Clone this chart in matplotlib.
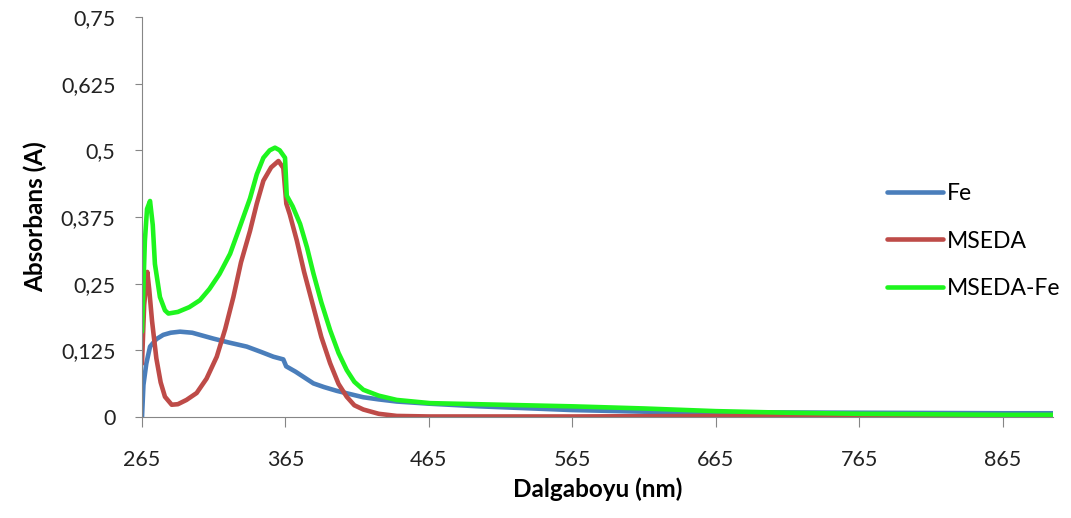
import matplotlib
matplotlib.use("Agg")
import matplotlib.pyplot as plt

plt.rcParams['font.family'] = ['Lato', 'DejaVu Sans']

# wavelength (nm) / absorbance
fe_x = [265, 266, 268, 270.6, 275, 279.8, 285, 291.5, 300, 314.7, 325, 338, 348, 356.6, 363.5, 365.5,
        372, 384.5, 392, 400.8, 410, 419.3, 430, 442.6, 465, 500, 565, 615, 665, 765, 865, 900]
fe_y = [0.0, 0.06, 0.10, 0.132, 0.146, 0.154, 0.158, 0.160, 0.158, 0.147, 0.140, 0.132, 0.122, 0.113, 0.108, 0.095,
        0.085, 0.063, 0.056, 0.049, 0.043, 0.037, 0.033, 0.029, 0.025, 0.020, 0.013, 0.010, 0.009, 0.008, 0.007, 0.007]

mseda_x = [265, 266.5, 268.7, 270, 272, 275, 278, 281, 285.7, 290, 296, 303.1, 310, 317.1, 323, 328.7, 334, 340.3,
           345, 349.6, 355, 360.1, 363.5, 365.6, 368, 372.9, 378, 384.5, 390, 396.1, 402, 407.7, 413, 419.3,
           430, 442.6, 465, 565, 665, 765, 865, 900]
mseda_y = [0.10, 0.21, 0.272, 0.24, 0.18, 0.11, 0.065, 0.038, 0.023, 0.024, 0.032, 0.045, 0.072, 0.113, 0.165, 0.225,
           0.29, 0.349, 0.400, 0.443, 0.468, 0.480, 0.467, 0.400, 0.380, 0.331, 0.272, 0.206, 0.150, 0.101, 0.062,
           0.038, 0.022, 0.014, 0.006, 0.002, 0.001, 0.001, 0.002, 0.002, 0.002, 0.002]

msedafe_x = [265, 267, 268.5, 270.6, 272.5, 274, 277.5, 281, 283.4, 290, 298, 305.4, 312, 319, 326.4, 333, 340.3,
             345, 349.6, 354, 357.7, 361, 364.7, 365.9, 370, 375.2, 380, 384.5, 390, 396.1, 402, 407.7,
             413, 419.3, 430, 442.6, 465.8, 515, 565, 615, 665, 715, 765, 865, 900]
msedafe_y = [0.16, 0.33, 0.39, 0.405, 0.36, 0.287, 0.225, 0.200, 0.194, 0.197, 0.206, 0.219, 0.240, 0.268, 0.306,
             0.355, 0.410, 0.455, 0.486, 0.500, 0.505, 0.500, 0.486, 0.415, 0.395, 0.362, 0.318, 0.269, 0.215, 0.163,
             0.120, 0.088, 0.066, 0.051, 0.040, 0.032, 0.026, 0.023, 0.020, 0.016, 0.011, 0.008, 0.006, 0.004, 0.004]

x_ticks = [265, 365, 465, 565, 665, 765, 865]
y_ticks = [0, 0.125, 0.25, 0.375, 0.5, 0.625, 0.75]
y_labels = ['0', '0,125', '0,25', '0,375', '0,5', '0,625', '0,75']

fig = plt.figure(figsize=(10.71, 5.18), dpi=100)
ax = fig.add_axes([142/1071, 101/518, 911/1071, 400/518])

ax.plot(fe_x, fe_y, color='#4A7EBB', lw=3.3, label='Fe', solid_capstyle='round', solid_joinstyle='round')
ax.plot(mseda_x, mseda_y, color='#BE4B48', lw=3.3, label='MSEDA', solid_capstyle='round', solid_joinstyle='round')
ax.plot(msedafe_x, msedafe_y, color='#1EF51E', lw=3.3, label='MSEDA-Fe', solid_capstyle='round', solid_joinstyle='round')

ax.set_xlim(265, 900)
ax.set_ylim(0, 0.75)
ax.set_xticks(x_ticks)
ax.set_yticks(y_ticks)
ax.set_yticklabels(y_labels)

for s in ['top', 'right']:
    ax.spines[s].set_visible(False)
for s in ['left', 'bottom']:
    ax.spines[s].set_color('#868686')
ax.tick_params(colors='#868686', labelcolor='#222222', labelsize=15.5, direction='out')
ax.tick_params(axis='x', length=7, pad=17)
ax.tick_params(axis='y', length=5, pad=14)

ax.set_xlabel('Dalgaboyu (nm)', fontsize=17.5, fontweight='bold', labelpad=5)
ax.set_ylabel('Absorbans (A)', fontsize=17.5, fontweight='bold', labelpad=10)

ax.legend(loc='center left', bbox_to_anchor=(0.795, 0.44), frameon=False, fontsize=16.5,
          handlelength=2.45, handletextpad=0.15, labelspacing=1.15)

fig.savefig('out.png', dpi=100)
